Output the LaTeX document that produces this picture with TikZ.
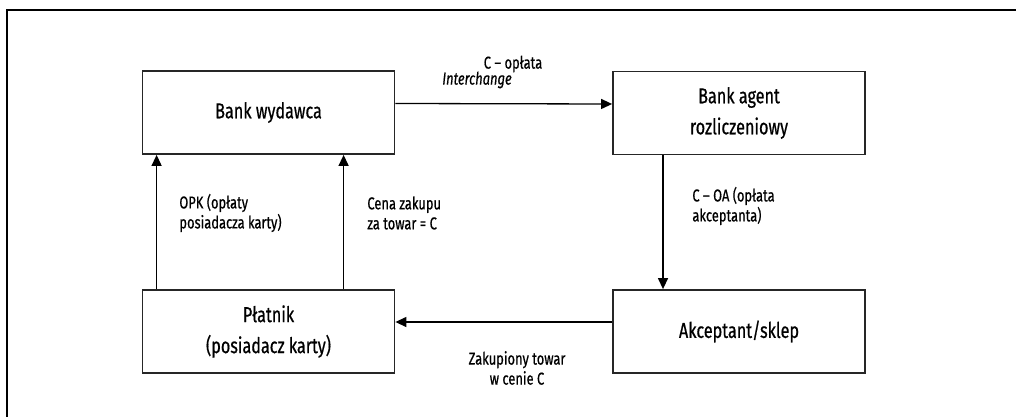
\documentclass[tikz,border=0pt]{standalone}
\usepackage{fontspec}
\setmainfont{Fira Sans}[FakeStretch=0.75,FakeBold=0.6]
\usetikzlibrary{arrows.meta}

\begin{document}
\begin{tikzpicture}[
  x=0.5pt, y=-0.5pt,
  >={Triangle[length=5.5pt,width=5pt]},
  party/.style={rectangle,draw=black!85,line width=0.9pt,minimum width=126pt,
                minimum height=41.5pt,align=center,inner sep=2pt,
                font=\fontsize{10.8}{15.5}\selectfont},
  arr/.style={->,line width=0.65pt,black},
  lbl/.style={font=\fontsize{8.6}{10}\selectfont,align=left,inner sep=0pt},
  outer/.style={line width=1pt,black}
]
\useasboundingbox (0,0) rectangle (1016,417);
\draw[outer] (7,417) -- (7,10) -- (1016,10);

%% ================= parties =================
\node[party] (wyd)     at (268.5,112.5) {Bank wydawca};
\node[party] (agent)   at (739,113)     {Bank agent\\rozliczeniowy};
\node[party] (platnik) at (268.5,331.5) {Płatnik\\(posiadacz karty)};
\node[party] (akc)     at (739,331.5)   {Akceptant/sklep};

%% ================= flows =================
\draw[arr] ([yshift=4.5pt]wyd.east) -- ([yshift=4.5pt]agent.west);
\node[lbl] at (513,64) {C – opłata};
\node[lbl] at (477,80) {\itshape Interchange};

\draw[arr] ([xshift=-38pt]agent.south) -- ([xshift=-38pt]akc.north);
\node[lbl,anchor=west] at (692,206) {C – OA (opłata\\akceptanta)};

\draw[arr] ([yshift=4.75pt]akc.west) -- ([yshift=4.75pt]platnik.east);
\node[lbl,align=center] at (517,368) {Zakupiony towar\\w cenie C};

\foreach \dx in {7.5pt,101pt}
  \draw[arr] ([xshift=\dx]platnik.north west) -- ([xshift=\dx]wyd.south west);
\node[lbl,anchor=west] at (179,213) {OPK (opłaty\\posiadacza karty)};
\node[lbl,anchor=west] at (367,213) {Cena zakupu\\za towar = C};

\end{tikzpicture}
\end{document}
